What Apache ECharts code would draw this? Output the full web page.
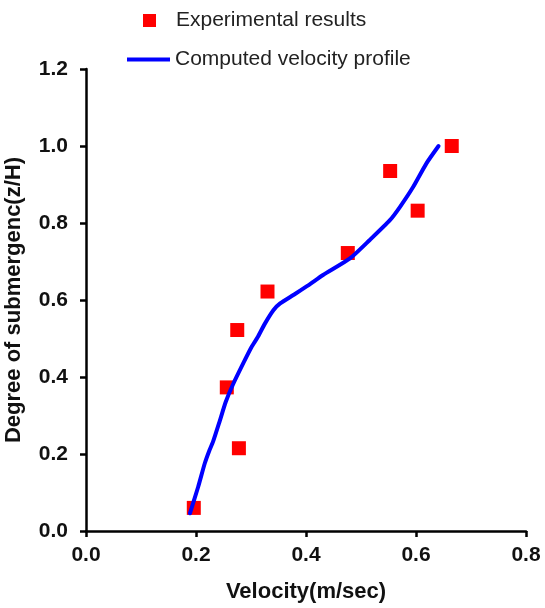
<!DOCTYPE html>
<html>
<head>
<meta charset="utf-8">
<title>Velocity profile</title>
<script src="https://cdn.jsdelivr.net/npm/echarts@6/dist/echarts.min.js"></script>
<style>
  html, body { margin: 0; padding: 0; background: #fff; }
  #chart { width: 545px; height: 608px; }
</style>
</head>
<body>
<div id="chart"></div>
<script>
// Measured points: velocity (m/s) against relative depth z/H
const expVelocity = [0.196, 0.256, 0.275, 0.278, 0.330, 0.476, 0.553, 0.603, 0.665];
const expDepth    = [0.060, 0.373, 0.522, 0.215, 0.622, 0.722, 0.935, 0.832, 1.000];

// Computed velocity profile
const profileVelocity = [0.189, 0.204, 0.216, 0.224, 0.231, 0.243, 0.254, 0.267, 0.286, 0.301, 0.312, 0.325,
                         0.341, 0.353, 0.377, 0.404, 0.431, 0.480, 0.516, 0.553, 0.571, 0.595, 0.619, 0.641];
const profileDepth    = [0.046, 0.115, 0.176, 0.208, 0.232, 0.285, 0.335, 0.380, 0.436, 0.478, 0.503, 0.538,
                         0.574, 0.591, 0.613, 0.638, 0.665, 0.708, 0.756, 0.808, 0.842, 0.894, 0.955, 1.000];

const xTicks = { min: 0, max: 0.8, interval: 0.2 };
const yTicks = { min: 0, max: 1.2, interval: 0.2 };

const FONT = '"Liberation Sans", Arial, sans-serif';

const chart = echarts.init(document.getElementById('chart'), null, { renderer: 'canvas' });

const axisCommon = {
  axisLine: { show: true, lineStyle: { color: '#000', width: 2.5 } },
  axisTick: { show: true, inside: false, length: 6, lineStyle: { color: '#000', width: 2.5 } },
  splitLine: { show: false },
  nameTextStyle: { fontFamily: FONT, fontWeight: 'bold', fontSize: 22, color: '#111' }
};

chart.setOption({
  animation: false,
  backgroundColor: '#fff',
  grid: { left: 86, right: 19, top: 69, bottom: 77, containLabel: false, outerBoundsMode: 'none' },
  legend: [
    {
      data: ['Experimental results'],
      left: 143, top: 10, padding: 0,
      itemWidth: 13, itemHeight: 13, icon: 'rect',
      textStyle: { fontFamily: FONT, fontSize: 21, color: '#222', padding: [0, 0, 0, 15] }
    },
    {
      data: [{ name: 'Computed velocity profile', icon: 'path://M0,0H43V4H0Z' }],
      left: 127, top: 49, padding: 0,
      itemWidth: 43, itemHeight: 4,
      textStyle: { fontFamily: FONT, fontSize: 21, color: '#222' }
    }
  ],
  xAxis: Object.assign({}, axisCommon, {
    type: 'value',
    min: xTicks.min, max: xTicks.max, interval: xTicks.interval,
    name: 'Velocity(m/sec)',
    nameLocation: 'middle', nameGap: 50,
    axisLabel: {
      margin: 14, fontFamily: FONT, fontWeight: 'bold', fontSize: 21, color: '#111',
      formatter: v => v.toFixed(1)
    }
  }),
  yAxis: Object.assign({}, axisCommon, {
    type: 'value',
    min: yTicks.min, max: yTicks.max, interval: yTicks.interval,
    name: 'Degree of submergenc(z/H)',
    nameLocation: 'middle', nameGap: 61, nameRotate: 90,
    axisLabel: {
      margin: 18, fontFamily: FONT, fontWeight: 'bold', fontSize: 21, color: '#111',
      formatter: v => v.toFixed(1)
    }
  }),
  series: [
    {
      name: 'Experimental results',
      type: 'scatter',
      symbol: 'rect',
      symbolSize: 14,
      itemStyle: { color: '#ff0000', opacity: 1 },
      z: 2,
      data: expVelocity.map((v, i) => [v, expDepth[i]])
    },
    {
      name: 'Computed velocity profile',
      type: 'line',
      showSymbol: false,
      symbol: 'none',
      smooth: 0.2,
      lineStyle: { color: '#0000ff', width: 4, cap: 'round', join: 'round' },
      itemStyle: { color: '#0000ff' },
      z: 3,
      data: profileVelocity.map((v, i) => [v, profileDepth[i]])
    }
  ]
});
</script>
</body>
</html>
